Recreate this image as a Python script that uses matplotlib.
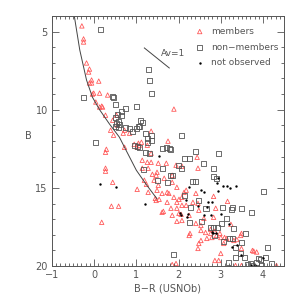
import numpy as np
import matplotlib
matplotlib.use("Agg")
import matplotlib.pyplot as plt
from matplotlib.ticker import MultipleLocator

# members (red triangles): B-R, B
mem_x = [-0.29, -0.25, -0.25, -0.18, -0.11, -0.13, -0.06, -0.11, -0.06, 0.11,
         -0.01, 0.13, 0.32, 0.04, 0.13, 0.18, 0.20, 0.27, 0.44, 0.39,
         0.46, 0.72, 0.69, 0.29, 0.72, 0.95, 1.05, 1.02, -0.04, 0.53,
         0.84, 0.55, 0.27, 1.07, 1.26, 1.12, 1.14, 1.26, 1.35, 1.14,
         0.27, 1.89, 1.35, 1.75, 1.35, 1.52, 1.71, 2.08, 2.44, 2.46,
         0.27, 0.44, 1.02, 0.41, 0.58, 0.18, 1.28, 1.19, 1.24, 1.28,
         1.45, 1.47, 1.38, 1.42, 1.49, 1.52, 1.47, 1.49, 1.61, 1.73,
         1.66, 1.85, 1.85, 1.96, 1.89, 2.08, 2.13, 1.96, 2.08, 1.82,
         1.61, 1.85, 2.01, 1.96, 2.18, 2.41, 2.46, 2.48, 2.34, 2.41,
         2.53, 2.53, 2.64, 2.25, 2.48, 2.60, 2.83, 2.88, 2.90, 2.67,
         2.79, 1.94, 1.77, 1.54, 2.18, 2.01, 1.96, 1.73, 1.64, 2.08,
         2.06, 2.25, 2.53, 2.46, 2.27, 2.76, 2.98, 3.16, 2.83, 3.24,
         2.86, 3.00, 3.09, 3.49, 3.07, 3.14, 3.31, 3.47, 3.49, 3.00,
         2.95, 2.86, 3.35, 3.49, 3.75, 4.32, 1.85, 1.94, 3.78, 3.85,
         2.76, 2.86, 3.38]
mem_y = [4.64, 5.47, 5.67, 7.01, 7.40, 7.59, 8.10, 8.29, 8.29, 8.17,
         8.94, 8.94, 9.06, 9.51, 9.83, 9.77, 9.83, 10.35, 10.67, 11.31,
         11.63, 11.31, 11.50, 12.53, 12.40, 12.21, 12.14, 12.40, 9.00, 10.35,
         11.50, 10.99, 12.72, 12.27, 12.27, 12.08, 13.23, 13.36, 13.36, 13.74,
         13.74, 9.96, 11.37, 12.01, 12.78, 13.42, 13.42, 13.61, 13.04, 13.74,
         13.93, 14.64, 15.09, 16.17, 16.17, 17.20, 13.74, 14.51, 14.77, 15.28,
         15.67, 15.80, 14.13, 14.51, 14.00, 14.83, 14.19, 15.15, 15.35, 15.28,
         14.38, 14.19, 14.64, 14.96, 15.60, 15.60, 15.28, 15.92, 16.11, 16.30,
         16.56, 16.75, 16.63, 17.14, 16.11, 15.35, 15.99, 16.43, 15.92, 17.27,
         17.40, 17.72, 17.85, 18.04, 18.55, 16.95, 16.88, 16.30, 18.04, 18.23,
         18.17, 13.55, 15.35, 15.73, 15.15, 15.73, 16.30, 15.92, 16.50, 17.08,
         16.69, 16.75, 18.36, 18.87, 17.91, 17.91, 17.91, 15.86, 15.54, 17.33,
         17.78, 18.17, 18.17, 17.91, 18.55, 18.23, 18.36, 18.04, 18.87, 19.19,
         19.64, 19.64, 19.96, 19.96, 19.00, 19.96, 19.90, 19.83, 19.04, 19.10,
         17.65, 17.78, 18.30]

# non-members (grey squares)
non_x = [0.15, -0.25, 0.46, 0.50, 1.00, 0.74, 0.65, 0.55, 0.50, 0.65,
         0.58, 0.53, 0.60, 0.50, 0.58, 0.74, 0.84, 0.91, 1.00, 1.09,
         1.14, 1.05, 1.21, 0.04, 0.95, 1.02, 1.26, 1.28, 1.31, 1.35,
         1.35, 1.35, 1.61, 1.78, 2.08, 0.44, 1.07, 1.26, 1.07, 1.21,
         1.31, 1.71, 1.80, 2.39, 2.15, 2.25, 2.58, 2.95, 1.61, 1.99,
         2.06, 2.83, 1.16, 1.49, 1.73, 1.85, 2.32, 2.41, 2.15, 2.48,
         2.65, 2.29, 2.25, 2.83, 2.90, 2.86, 2.83, 3.05, 3.28, 3.49,
         3.73, 4.01, 3.14, 3.02, 3.31, 2.93, 3.59, 3.21, 3.28, 3.49,
         1.80, 3.26, 3.35, 3.56, 3.47, 3.71, 3.89, 4.06, 4.11, 4.20,
         3.73, 3.96, 1.87, 2.76, 2.55, 3.07, 3.35, 3.19, 3.94, 3.64,
         3.85]
non_y = [4.90, 9.20, 9.20, 9.64, 9.77, 9.90, 10.09, 10.28, 10.47, 10.35,
         10.73, 10.86, 10.92, 11.05, 11.11, 11.11, 11.18, 11.37, 11.18, 10.67,
         10.79, 11.05, 11.50, 12.08, 12.27, 12.33, 12.08, 7.40, 8.10, 8.94,
         11.63, 11.95, 12.46, 12.46, 11.63, 9.13, 11.05, 11.82, 12.40, 12.72,
         12.78, 12.40, 12.53, 12.65, 13.10, 13.10, 13.42, 12.78, 13.74, 13.55,
         13.74, 14.26, 13.80, 14.51, 14.64, 14.19, 14.58, 14.58, 15.47, 15.79,
         16.30, 16.24, 17.20, 17.52, 14.38, 18.04, 13.74, 16.24, 16.24, 16.30,
         16.56, 15.22, 16.95, 17.27, 17.59, 17.52, 17.91, 18.23, 18.23, 18.49,
         14.19, 16.37, 18.81, 19.45, 19.19, 19.83, 19.51, 19.45, 18.81, 19.83,
         19.96, 19.96, 19.26, 17.52, 17.14, 18.42, 19.45, 19.77, 19.58, 19.90,
         19.77]

# not observed (black dots)
nob_x = [1.54, 0.13, 0.53, 1.21, 2.25, 2.18, 2.53, 2.60, 2.69, 2.67,
         2.60, 2.76, 2.20, 2.06, 2.81, 2.90, 2.93, 3.05, 3.14, 3.21,
         3.35, 2.93, 2.79, 3.00, 3.19, 2.79, 2.88, 2.46, 2.04, 2.22,
         3.26, 3.49, 3.71, 3.80, 4.01, 3.38]
nob_y = [12.97, 14.77, 14.96, 16.05, 14.96, 15.80, 15.15, 15.28, 15.92, 16.24,
         16.75, 16.75, 16.88, 16.75, 17.91, 14.71, 14.38, 14.90, 14.90, 15.03,
         14.90, 15.22, 15.92, 16.69, 17.33, 17.85, 17.91, 16.17, 16.63, 16.69,
         18.81, 19.26, 19.96, 19.96, 19.51, 18.68]

# isochrone
iso_x = [-0.47, -0.34, -0.18, -0.04, 0.13, 0.36, 0.60, 0.72, 1.00, 1.24, 1.49]
iso_y = [4.0, 6.18, 8.10, 9.20, 10.00, 10.90, 11.76, 12.40, 13.87, 14.80, 15.70]

# reddening vector
av_x = [1.19, 1.78]
av_y = [6.05, 7.33]

grey = "#555555"
fig = plt.figure(figsize=(3, 3), dpi=100)
ax = fig.add_axes([0.173, 0.113, 0.774, 0.834])

ax.plot(iso_x, iso_y, color="#444444", lw=0.7)
ax.plot(av_x, av_y, color="#444444", lw=0.7)
ax.text(1.58, 6.4, "Av=1", fontsize=6.5, color=grey, va="center", ha="left")

ax.scatter(mem_x, mem_y, marker="^", s=10, facecolors="none",
           edgecolors="#ff5a5a", linewidths=0.6, label="members")
ax.scatter(non_x, non_y, marker="s", s=13, facecolors="none",
           edgecolors="#555555", linewidths=0.6, label="non\u2212members")
ax.scatter(nob_x, nob_y, marker="o", s=3, color="black",
           linewidths=0, label="not observed")

ax.set_xlim(-1, 4.5)
ax.set_ylim(20, 4)
ax.xaxis.set_major_locator(MultipleLocator(1))
ax.xaxis.set_minor_locator(MultipleLocator(0.1))
ax.yaxis.set_major_locator(MultipleLocator(5))
ax.yaxis.set_minor_locator(MultipleLocator(1))
ax.tick_params(which="both", direction="in", top=True, right=True,
               colors=grey, labelsize=7, width=0.6)
ax.tick_params(which="major", length=5, pad=3)
ax.tick_params(which="minor", length=2.5)
for s in ax.spines.values():
    s.set_color(grey)
    s.set_linewidth(0.7)

ax.set_xlabel("B\u2212R (USNOb)", fontsize=7, color=grey, labelpad=2)
ax.set_ylabel("B", fontsize=7, color=grey, rotation=0)
ax.yaxis.set_label_coords(-0.1, 0.5)

leg = ax.legend(loc="upper left", bbox_to_anchor=(0.62, 0.956), frameon=False,
                fontsize=6.5, handlelength=0.85, handletextpad=0.85,
                labelspacing=0.75, borderpad=0, borderaxespad=0)
for t in leg.get_texts():
    t.set_color(grey)

fig.savefig("out.png", dpi=100)
